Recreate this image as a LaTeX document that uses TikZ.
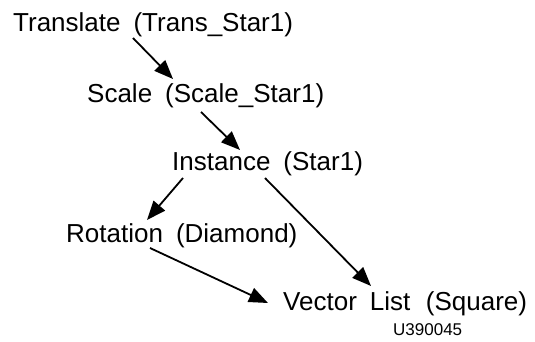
\documentclass[tikz,border=0pt]{standalone}
\usepackage{fontspec}
\setmainfont{Liberation Sans}
\usetikzlibrary{arrows.meta}
\begin{document}
\begin{tikzpicture}[x=1pt, y=1pt,
  strlabel/.style={anchor=base west, inner sep=0pt, font=\fontsize{26}{30}\selectfont},
  strarrow/.style={-{Triangle[length=19pt, width=15pt]}, line width=1.8pt}]
  \useasboundingbox (0,0) rectangle (535,341);
  % structure names
  \node[strlabel] (trans) at (13,309)  {Translate\enspace(Trans\_Star1)};
  \node[strlabel] (scale) at (87,239)  {Scale\enspace(Scale\_Star1)};
  \node[strlabel] (inst)  at (172,171) {Instance\enspace(Star1)};
  \node[strlabel] (rot)   at (66,99)   {Rotation\enspace(Diamond)};
  \node[strlabel] (vec)   at (283,31)  {Vector\enspace List\hspace{0.6em}(Square)};
  \node[anchor=base west, inner sep=0pt, font=\fontsize{17}{20}\selectfont] (code) at (393,6) {U390045};
  % links
  \draw[strarrow] ([shift={(120,-6)}]trans.base west) -- ([shift={(86,23)}]scale.base west);
  \draw[strarrow] ([shift={(114,-10)}]scale.base west) -- ([shift={(68,20)}]inst.base west);
  \draw[strarrow] ([shift={(11,-8)}]inst.base west) -- ([shift={(81,22)}]rot.base west);
  \draw[strarrow] ([shift={(93,-8)}]inst.base west) -- ([shift={(88,24)}]vec.base west);
  \draw[strarrow] ([shift={(84,-6)}]rot.base west) -- ([shift={(-15,7)}]vec.base west);
\end{tikzpicture}
\end{document}
